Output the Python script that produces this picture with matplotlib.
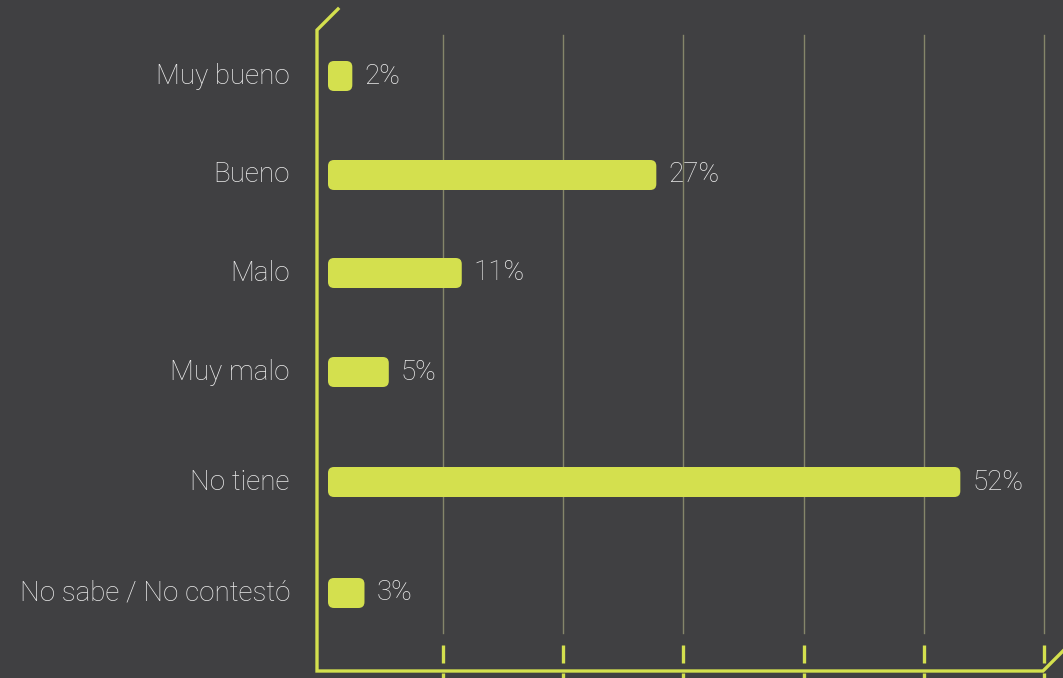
import matplotlib
matplotlib.use("Agg")
import matplotlib.pyplot as plt
from matplotlib.patches import FancyBboxPatch
from matplotlib.lines import Line2D
from matplotlib.transforms import IdentityTransform

categories = ["Muy bueno", "Bueno", "Malo", "Muy malo", "No tiene", "No sabe / No contestó"]
values = [2, 27, 11, 5, 52, 3]
value_labels = ["2%", "27%", "11%", "5%", "52%", "3%"]

# layout (pixels from top of figure)
W, H = 1063, 678
ypos = [76, 175, 273, 372, 482, 593]

BG = "#404042"
LIME = "#d4e04e"
GRID = "#85866a"
TXT = "#ebebeb"
FONT = ["Roboto", "DejaVu Sans"]

fig = plt.figure(figsize=(W / 100, H / 100), dpi=100, facecolor=BG)

def fx(px):
    return px / W

def fy(py):
    return 1 - py / H

# axes region: x 317..1043 px, y 30..670 px
ax = fig.add_axes([fx(317), fy(670), fx(1043) - fx(317), fy(30) - fy(670)])
ax.set_facecolor(BG)
px_per_unit = 12.16
ax.set_xlim(-11 / px_per_unit, (1043 - 328) / px_per_unit)
ax.set_ylim(670, 30)
ax.axis("off")

# decorative gridlines and tick dashes (figure pixel coords)
grid_x = [443 + k * 120.2 for k in range(6)]
for gx in grid_x:
    fig.add_artist(Line2D([fx(gx), fx(gx)], [fy(35), fy(633)], color=GRID, lw=1.0, zorder=1))
    fig.add_artist(Line2D([fx(gx), fx(gx)], [fy(645), fy(663)], color=LIME, lw=2.4,
                          solid_capstyle="butt", zorder=1))
    fig.add_artist(Line2D([fx(gx), fx(gx)], [fy(673), fy(679)], color=LIME, lw=2.4,
                          solid_capstyle="butt", zorder=1))

# frame lines with diagonals
fig.add_artist(Line2D([fx(338), fx(317), fx(317), fx(1043), fx(1063)],
                      [fy(9), fy(30), fy(671), fy(671), fy(651)],
                      color=LIME, lw=2.4, solid_joinstyle="miter", zorder=2))

# bars
bars = ax.barh(ypos, values, height=30, left=0, color="none", edgecolor="none")
fig.canvas.draw()
for rect, lab in zip(bars.patches, value_labels):
    bb = rect.get_window_extent()
    r = 6
    p = FancyBboxPatch((bb.x0 + r, bb.y0 + r), max(bb.width - 2 * r, 0.1), bb.height - 2 * r,
                       boxstyle=f"round,pad={r},rounding_size={r}",
                       transform=IdentityTransform(), facecolor=LIME, edgecolor="none",
                       zorder=5)
    fig.add_artist(p)
    ax.annotate(lab, xy=(rect.get_width(), rect.get_y() + rect.get_height() / 2),
                xytext=(8.5, 0), textcoords="offset points", ha="left", va="center",
                color=TXT, fontsize=20, family=FONT, fontweight="light", zorder=6)

for cat, y in zip(categories, ypos):
    fig.text(fx(290), fy(y), cat, ha="right", va="center", color=TXT,
             fontsize=20, family=FONT, fontweight="light")

fig.savefig("out.png", dpi=100, facecolor=BG)
